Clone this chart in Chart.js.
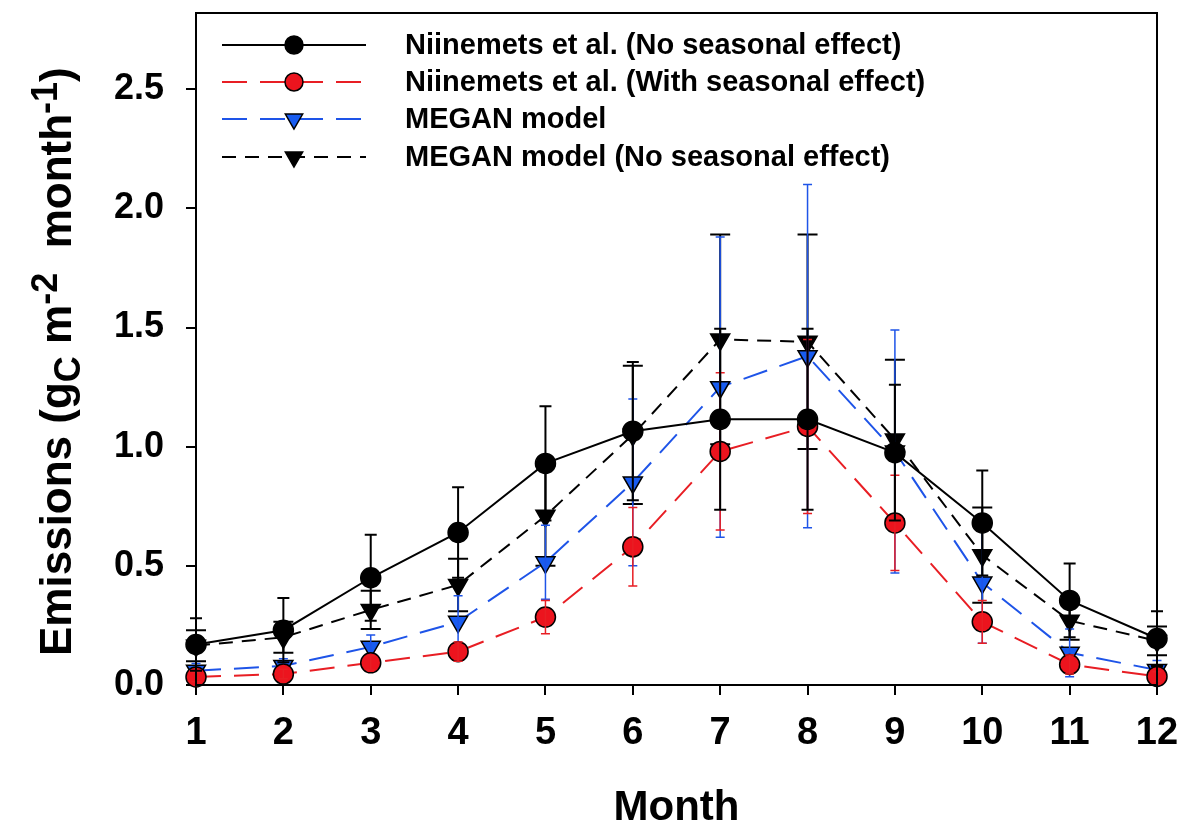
<!DOCTYPE html>
<html>
<head>
<meta charset="utf-8">
<script src="https://cdn.jsdelivr.net/npm/chart.js@4.4.0/dist/chart.umd.min.js"></script>
<style>
  html, body { margin: 0; padding: 0; background: #fff; }
</style>
</head>
<body>
<canvas id="chart" width="1182" height="827"></canvas>
<script>
// data
const months = ['1', '2', '3', '4', '5', '6', '7', '8', '9', '10', '11', '12'];

const niinNo      = [0.17, 0.23, 0.45, 0.64, 0.93, 1.065, 1.115, 1.115, 0.975, 0.68, 0.355, 0.195];
const niinNoErr   = [0.11, 0.135, 0.18, 0.19, 0.24, 0.29, 0.38, 0.38, 0.285, 0.22, 0.155, 0.115];

const niinSeas    = [0.034, 0.046, 0.093, 0.14, 0.285, 0.58, 0.98, 1.085, 0.68, 0.265, 0.086, 0.036];
const niinSeasErr = [0.02, 0.02, 0.03, 0.04, 0.07, 0.165, 0.33, 0.365, 0.2, 0.09, 0.04, 0.02];

const megan       = [0.06, 0.08, 0.16, 0.265, 0.515, 0.85, 1.25, 1.38, 0.98, 0.43, 0.135, 0.063];
const meganErr    = [0.03, 0.03, 0.05, 0.11, 0.155, 0.35, 0.63, 0.72, 0.51, 0.255, 0.1, 0.04];

const meganNo     = [0.165, 0.2, 0.315, 0.42, 0.71, 1.05, 1.45, 1.44, 1.03, 0.545, 0.27, 0.185];
const meganNoErr  = [0.065, 0.065, 0.08, 0.11, 0.21, 0.29, 0.44, 0.45, 0.335, 0.2, 0.08, 0.06];

const yTicks = [0, 0.5, 1.0, 1.5, 2.0, 2.5];

const FONT = "'Liberation Sans', Arial, sans-serif";
const RED = 'rgb(232,30,36)';
const BLUE = 'rgb(30,84,232)';

function series(label, data, err, opt) {
  return Object.assign({
    label: label,
    data: data,
    errors: err,
    borderWidth: 2,
    pointRadius: 10,
    pointBorderColor: '#000',
    pointBorderWidth: 1.5,
    tension: 0,
    clip: false
  }, opt);
}

const datasets = [
  series('Niinemets et al. (No seasonal effect)', niinNo, niinNoErr, {
    borderColor: '#000', pointBackgroundColor: '#000', pointStyle: 'circle',
    errColor: '#000', errWidth: 2, capW: 12
  }),
  series('Niinemets et al. (With seasonal effect)', niinSeas, niinSeasErr, {
    borderColor: RED, borderDash: [25, 13], pointBackgroundColor: 'rgb(236,20,30)', pointStyle: 'circle',
    errColor: RED, errWidth: 1.5, capW: 9
  }),
  series('MEGAN model', megan, meganErr, {
    borderColor: BLUE, borderDash: [25, 13], pointBackgroundColor: 'rgb(24,92,240)', pointStyle: 'triangle',
    pointRotation: 180, pointRadius: 11, errColor: BLUE, errWidth: 1.5, capW: 9
  }),
  series('MEGAN model (No seasonal effect)', meganNo, meganNoErr, {
    borderColor: '#000', borderDash: [14, 9], pointBackgroundColor: '#000', pointStyle: 'triangle',
    pointRotation: 180, pointRadius: 11, errColor: '#000', errWidth: 2, capW: 20
  })
];

// error bars, drawn right after each dataset
const errorBars = {
  id: 'errorBars',
  afterDatasetDraw(chart, args) {
    const ds = chart.data.datasets[args.index];
    const { ctx, scales: { x, y } } = chart;
    ctx.save();
    ctx.strokeStyle = ds.errColor;
    ctx.lineWidth = ds.errWidth;
    ds.data.forEach((v, i) => {
      const px = x.getPixelForValue(i);
      const top = y.getPixelForValue(v + ds.errors[i]);
      const bot = y.getPixelForValue(Math.max(0, v - ds.errors[i]));
      ctx.beginPath();
      ctx.moveTo(px, top); ctx.lineTo(px, bot);
      ctx.moveTo(px - ds.capW / 2, top); ctx.lineTo(px + ds.capW / 2, top);
      ctx.moveTo(px - ds.capW / 2, bot); ctx.lineTo(px + ds.capW / 2, bot);
      ctx.stroke();
    });
    ctx.restore();
  }
};

// frame, legend and axis titles
const decorations = {
  id: 'decorations',
  afterDraw(chart) {
    const { ctx, chartArea: a } = chart;
    ctx.save();
    ctx.strokeStyle = '#000';
    ctx.lineWidth = 2;
    ctx.strokeRect(a.left, a.top, a.right - a.left, a.bottom - a.top);

    // legend
    const rows = [45, 82, 119, 157];
    chart.data.datasets.forEach((ds, i) => {
      const yy = rows[i];
      ctx.save();
      ctx.strokeStyle = ds.borderColor;
      ctx.lineWidth = 2;
      ctx.setLineDash(ds.borderDash || []);
      ctx.beginPath();
      ctx.moveTo(222, yy); ctx.lineTo(366, yy);
      ctx.stroke();
      ctx.restore();
      ctx.fillStyle = ds.pointBackgroundColor;
      ctx.strokeStyle = '#000';
      ctx.lineWidth = 1.5;
      Chart.helpers.drawPoint(ctx, {
        pointStyle: ds.pointStyle, radius: ds.pointRadius - 1, rotation: ds.pointRotation || 0, borderWidth: 1.5
      }, 294, yy);
      ctx.fillStyle = '#000';
      ctx.font = 'bold 29px ' + FONT;
      ctx.textAlign = 'left';
      ctx.textBaseline = 'middle';
      ctx.fillText(ds.label, 405, yy + 1);
    });

    // x title
    ctx.fillStyle = '#000';
    ctx.font = 'bold 42px ' + FONT;
    ctx.textAlign = 'center';
    ctx.textBaseline = 'middle';
    ctx.fillText('Month', (a.left + a.right) / 2, 808);

    // y title with sub/superscripts
    const parts = [
      ['Emissions (g', 44, 0],
      ['C', 36, 9],
      [' m', 44, 0],
      ['-2', 36, -14],
      ['  month', 44, 0],
      ['-1', 36, -14],
      [')', 44, 0]
    ];
    ctx.save();
    ctx.translate(71, 656);
    ctx.rotate(-Math.PI / 2);
    ctx.textAlign = 'left';
    ctx.textBaseline = 'alphabetic';
    let cx = 0;
    parts.forEach(([t, size, dy]) => {
      ctx.font = 'bold ' + size + 'px ' + FONT;
      ctx.fillText(t, cx, dy);
      cx += ctx.measureText(t).width;
    });
    ctx.restore();
    ctx.restore();
  }
};

function noPad(s) {
  s.paddingTop = 0; s.paddingBottom = 0; s.paddingLeft = 0; s.paddingRight = 0;
}

new Chart(document.getElementById('chart'), {
  type: 'line',
  data: { labels: months, datasets: datasets },
  plugins: [errorBars, decorations],
  options: {
    responsive: false,
    animation: false,
    devicePixelRatio: 1,
    layout: { padding: { top: 13, right: 25, left: 0, bottom: 0 } },
    plugins: { legend: { display: false }, tooltip: { enabled: false } },
    scales: {
      x: {
        type: 'category',
        offset: false,
        afterFit: s => { s.height = 142; noPad(s); },
        grid: { drawOnChartArea: false, tickLength: 10, color: '#000', lineWidth: 2 },
        border: { color: '#000', width: 2 },
        ticks: { color: '#000', padding: 16, font: { family: FONT, size: 38, weight: 'bold' }, maxRotation: 0 }
      },
      y: {
        min: 0,
        max: 2.82,
        afterFit: s => { s.width = 196; noPad(s); },
        afterBuildTicks: s => { s.ticks = yTicks.map(v => ({ value: v })); },
        grid: { drawOnChartArea: false, tickLength: 10, color: '#000', lineWidth: 2 },
        border: { color: '#000', width: 2 },
        ticks: {
          color: '#000', padding: 22,
          font: { family: FONT, size: 36, weight: 'bold' },
          callback: v => v.toFixed(1)
        }
      }
    }
  }
});
</script>
</body>
</html>
